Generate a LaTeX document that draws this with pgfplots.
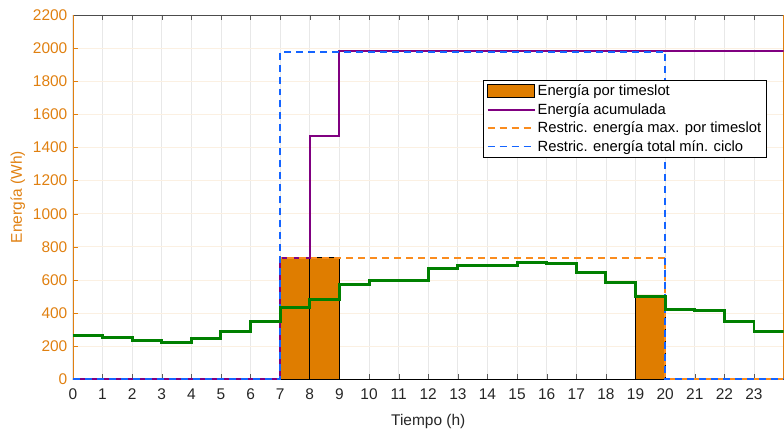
\documentclass[border=0pt]{standalone}
\usepackage{pgfplots}
\pgfplotsset{compat=1.18}
\usepackage{fontspec}
\setmainfont{Liberation Sans}
\definecolor{barC}{RGB}{223,125,0}
\definecolor{axC}{RGB}{224,128,16}
\definecolor{grnC}{RGB}{0,128,0}
\definecolor{purC}{RGB}{128,0,128}
\definecolor{blC}{RGB}{20,100,255}
\definecolor{orC}{RGB}{250,140,30}
\definecolor{txtC}{RGB}{38,38,38}
\begin{document}
\begin{tikzpicture}
\begin{axis}[
  scale only axis, width=712pt, height=365pt,
  xmin=0, xmax=24, ymin=0, ymax=2200,
  xtick={0,...,23}, ytick={0,200,...,2200},
  font=\fontsize{15.5}{18}\selectfont,
  /pgf/number format/assume math mode=true,
  /pgf/number format/1000 sep={},
  tick align=inside, ytick pos=left,
  major tick length=5pt,
  separate axis lines,
  x axis line style={color=gray!60!black},
  y axis line style={color=axC},
  xtick style={color=gray!70!black},
  ytick style={color=axC},
  xticklabel style={color=txtC, yshift=-6pt},
  yticklabel style={color=axC, xshift=-2pt},
  xmajorgrids, ymajorgrids,
  x grid style={color=gray!18, line width=0.8pt},
  y grid style={color=axC!12, line width=0.8pt},
  xlabel={Tiempo (h)}, ylabel={Energía (Wh)},
  xlabel style={color=txtC, yshift=-8pt},
  ylabel style={color=axC, yshift=1pt},
  legend cell align=left,
  legend style={at={(rel axis cs:0.976,0.822)}, anchor=north east,
    draw=black, line width=0.6pt, fill=white, font=\fontsize{14.8}{17}\selectfont,
    inner sep=3pt, row sep=2pt, text=black},
]
\addplot[ybar interval, fill=barC, draw=black, line width=0.6pt,
  area legend,
  legend image code/.code={\draw[fill=barC, draw=black, line width=0.6pt] (0pt,-6pt) rectangle (47pt,7pt);}]
  coordinates {(0,0)(1,0)(2,0)(3,0)(4,0)(5,0)(6,0)(7,735)(8,735)(9,0)(10,0)(11,0)(12,0)(13,0)(14,0)(15,0)(16,0)(17,0)(18,0)(19,510)(20,0)(21,0)(22,0)(23,0)(24,0)};
\addlegendentry{Energía por timeslot}
\addplot[sharp plot, no marks, color=purC, line width=2pt,
  legend image code/.code={\draw[purC, line width=2pt] (0pt,0pt) -- (47pt,0pt);}]
  coordinates {(0,0)(7,0)(7,735)(8,735)(8,1470)(9,1470)(9,1980)(24,1980)};
\addlegendentry{Energía acumulada}
\addplot[sharp plot, no marks, color=orC, line width=1.8pt, line cap=butt, dash pattern=on 7pt off 5pt,
  legend image code/.code={\draw[orC, line width=1.8pt, dash pattern=on 7pt off 5pt] (0pt,0pt) -- (47pt,0pt);}]
  coordinates {(0,0)(7,0)(7,735)(20,735)(20,0)(24,0)};
\addlegendentry{Restric. energía max. por timeslot}
\addplot[sharp plot, no marks, color=blC, line width=2pt, line cap=butt, dash pattern=on 7pt off 5pt,
  legend image code/.code={\draw[blC, line width=1.8pt, dash pattern=on 7pt off 5pt] (0pt,0pt) -- (47pt,0pt);}]
  coordinates {(0,0)(7,0)(7,1978)(20,1978)(20,0)(24,0)};
\addlegendentry{Restric. energía total mín. ciclo}
\addplot[const plot mark left, color=grnC, line width=3pt, forget plot]
  coordinates {(0,264)(1,250)(2,232)(3,224)(4,244)(5,286)(6,348)(7,432)(8,482)(9,571)(10,597)(11,597)(12,670)(13,688)(14,688)(15,706)(16,698)(17,646)(18,586)(19,500)(20,422)(21,416)(22,351)(23,291)(24,291)};
\end{axis}
\path (current axis.south west) ++(-73pt,-48pt) coordinate (bbA);
\path (current axis.north east) ++(0pt,15pt) coordinate (bbB);
\useasboundingbox (bbA) rectangle (bbB);
\end{tikzpicture}
\end{document}
